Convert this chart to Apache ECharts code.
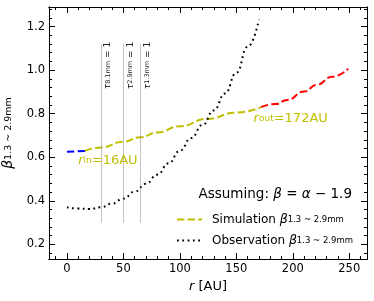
<!DOCTYPE html>
<html><head><meta charset="utf-8">
<script src="https://cdn.jsdelivr.net/npm/echarts@6/dist/echarts.min.js"></script>
<style>html,body{margin:0;padding:0;background:#fff}#c{width:374px;height:301px}</style>
</head><body><div id="c"></div>
<script>
// ---- data ----
const innerR = [0, 8, 16];
const innerBeta = [0.625, 0.627, 0.629];
const simR = [16, 30, 50, 65, 80, 100, 124, 150, 172];
const simBeta = [0.629, 0.645, 0.671, 0.692, 0.714, 0.742, 0.776, 0.805, 0.830];
const outerR = [172, 185, 195, 210, 221, 235, 249];
const outerBeta = [0.830, 0.845, 0.863, 0.902, 0.932, 0.970, 1.006];
const obsR = [0, 10, 20, 30, 40, 50, 60, 70, 80, 90, 100, 110, 120, 130, 140, 150, 160, 170];
const obsBeta = [0.370, 0.364, 0.362, 0.370, 0.387, 0.410, 0.442, 0.478, 0.520, 0.572, 0.630, 0.688, 0.748, 0.815, 0.893, 0.988, 1.107, 1.232];
const tauR = [30, 50, 65];
const tauBands = ['8.1mm', '2.9mm', '1.3mm'];
const xTicks = [0, 50, 100, 150, 200, 250];
const xMinor = [-10, 10, 20, 30, 40, 60, 70, 80, 90, 110, 120, 130, 140, 160, 170, 180, 190, 210, 220, 230, 240, 260];
const yTicks = [0.2, 0.4, 0.6, 0.8, 1.0, 1.2];
const yMinor = [0.16, 0.24, 0.28, 0.32, 0.36, 0.44, 0.48, 0.52, 0.56, 0.64, 0.68, 0.72, 0.76, 0.84, 0.88, 0.92, 0.96, 1.04, 1.08, 1.12, 1.16, 1.24, 1.28];

const zip = (a, b) => a.map((v, i) => [v, b[i]]);
const FF = 'DejaVu Sans';
const YEL = '#bfbf00';
const XMIN = -15.9, XMAX = 265.7, YMIN = 0.1325, YMAX = 1.29;

function xAx(pos, vals, len, main) {
  return {
    type: 'value', min: XMIN, max: XMAX, position: pos, gridIndex: 0,
    axisLine: { show: true, onZero: false, lineStyle: { color: '#000', width: 1 } },
    axisTick: { show: true, inside: true, length: len, customValues: vals, lineStyle: { color: '#000', width: 1 } },
    axisLabel: main ? { show: true, customValues: xTicks, margin: 4, fontSize: 11.5, color: '#000', fontFamily: FF } : { show: false },
    splitLine: { show: false },
    name: main ? '{r|r}{t| [AU]}' : '', nameLocation: 'middle', nameGap: 13,
    nameTextStyle: { rich: { r: { fontFamily: FF, fontSize: 13, fontStyle: 'italic', color: '#000' }, t: { fontFamily: FF, fontSize: 13, color: '#000' } } }
  };
}
function yAx(pos, vals, len, main) {
  return {
    type: 'value', min: YMIN, max: YMAX, position: pos, gridIndex: 0,
    axisLine: { show: true, onZero: false, lineStyle: { color: '#000', width: 1 } },
    axisTick: { show: true, inside: true, length: len, customValues: vals, lineStyle: { color: '#000', width: 1 } },
    axisLabel: main ? { show: true, customValues: yTicks, margin: 4, fontSize: 11.5, color: '#000', fontFamily: FF, formatter: v => v.toFixed(1) } : { show: false },
    splitLine: { show: false },
    name: main ? '{b|β}{s|1.3 ~ 2.9mm}' : '', nameLocation: 'middle', nameGap: 27,
    nameTextStyle: { rich: { b: { fontFamily: FF, fontSize: 14, fontStyle: 'italic', color: '#000', lineHeight: 16 }, s: { fontFamily: FF, fontSize: 9.5, color: '#000', lineHeight: 7 } } }
  };
}

const chart = echarts.init(document.getElementById('c'), null, { renderer: 'canvas' });
chart.setOption({
  animation: false,
  backgroundColor: '#fff',
  grid: { left: 49, right: 7, top: 7, bottom: 42, containLabel: false, outerBoundsMode: 'none' },
  xAxis: [xAx('bottom', xTicks, 6, true), xAx('bottom', xMinor, 3, false), xAx('top', xTicks, 6, false), xAx('top', xMinor, 3, false)],
  yAxis: [yAx('left', yTicks, 6, true), yAx('left', yMinor, 3, false), yAx('right', yTicks, 6, false), yAx('right', yMinor, 3, false)],
  title: {
    right: 22, top: 187, padding: 0,
    text: '{a|Assuming: }{g|β}{a| = }{g|α}{a| − 1.9}',
    textStyle: { fontWeight: 'normal', rich: { a: { fontFamily: FF, fontSize: 13.5, fontWeight: 'normal', color: '#000' }, g: { fontFamily: FF, fontSize: 13.5, fontWeight: 'normal', fontStyle: 'italic', color: '#000' } } }
  },
  legend: {
    orient: 'vertical', left: 176, top: 213, padding: 0, itemWidth: 25, itemHeight: 12, itemGap: 8,
    itemStyle: { opacity: 0 },
    data: ['Simulation', 'Observation'],
    formatter: n => '{n|' + n + ' }{b|β}{s|1.3 ~ 2.9mm}',
    textStyle: { rich: {
      n: { fontFamily: FF, fontSize: 12, color: '#000', padding: [0, 0, 0, 5], lineHeight: 14 },
      b: { fontFamily: FF, fontSize: 12.5, fontStyle: 'italic', color: '#000', lineHeight: 14 },
      s: { fontFamily: FF, fontSize: 8.5, color: '#000', lineHeight: 6 } } }
  },
  series: [
    { name: 'inner', type: 'line', data: zip(innerR, innerBeta), symbol: 'none', smooth: true,
      lineStyle: { color: '#0000ff', width: 2, type: [7.4, 3.2] } },
    { name: 'Simulation', type: 'line', data: zip(simR, simBeta), symbol: 'none', smooth: true, smoothMonotone: 'x',
      itemStyle: { color: YEL },
      lineStyle: { color: YEL, width: 2, type: [7.4, 3.2] },
      markPoint: {
        symbol: 'circle', symbolSize: 0, silent: true,
        label: { show: true, position: 'right', distance: 0, color: YEL },
        data: [
          { coord: [10, 0.583], label: { formatter: '{r|r}{s|in}{t|=16AU}', rich: {
            r: { fontFamily: FF, fontSize: 13, fontStyle: 'italic', color: YEL, lineHeight: 15 },
            s: { fontFamily: FF, fontSize: 9, color: YEL, lineHeight: 7 },
            t: { fontFamily: FF, fontSize: 13, color: YEL, lineHeight: 15 } } } },
          { coord: [165.3, 0.779], label: { formatter: '{r|r}{s|out}{t|=172AU}', rich: {
            r: { fontFamily: FF, fontSize: 13, fontStyle: 'italic', color: YEL, lineHeight: 15 },
            s: { fontFamily: FF, fontSize: 9, color: YEL, lineHeight: 7 },
            t: { fontFamily: FF, fontSize: 13, color: YEL, lineHeight: 15 } } } }
        ]
      } },
    { name: 'outer', type: 'line', data: zip(outerR, outerBeta), symbol: 'none', smooth: true, smoothMonotone: 'x',
      lineStyle: { color: '#ff0000', width: 2, type: [7.4, 3.2] } },
    { name: 'Observation', type: 'line', data: zip(obsR, obsBeta), symbol: 'none', smooth: true, smoothMonotone: 'x',
      itemStyle: { color: '#000' },
      lineStyle: { color: '#000', width: 2, type: [1.8, 3.5] },
      markLine: {
        silent: true, symbol: ['none', 'none'], label: { show: false },
        lineStyle: { color: '#888', width: 1, type: [1, 1] },
        data: tauR.map(r => [{ coord: [r, 0.30] }, { coord: [r, 1.12] }])
      },
      markPoint: {
        symbol: 'circle', symbolSize: 0, silent: true,
        label: { show: true, rotate: 90, position: [2, 0], align: 'right', verticalAlign: 'top' },
        data: tauR.map((r, i) => ({ coord: [r, 1.13], label: {
          formatter: '{t|τ}{s|' + tauBands[i] + '}{u| = 1}',
          rich: {
            t: { fontFamily: FF, fontSize: 9, fontStyle: 'italic', color: '#222', lineHeight: 10 },
            s: { fontFamily: FF, fontSize: 6.5, color: '#222', lineHeight: 6 },
            u: { fontFamily: FF, fontSize: 9, color: '#222', lineHeight: 10 } } } }))
      } }
  ]
});
</script>
</body></html>
